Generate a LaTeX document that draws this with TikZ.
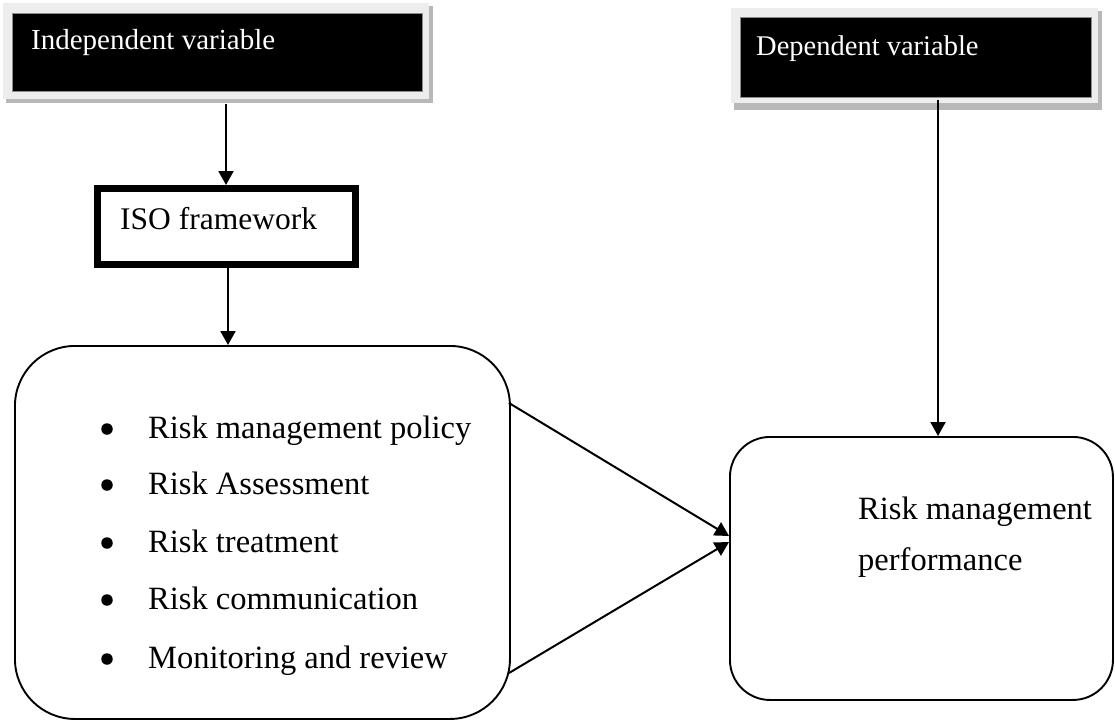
\documentclass[tikz,border=0pt]{standalone}
\usepackage{fontspec}
\setmainfont{Liberation Serif}
\usetikzlibrary{arrows.meta,positioning}
\begin{document}
\begin{tikzpicture}[x=1pt,y=-1pt,
  lightframe/.style={draw=none,fill=black!7,minimum width=#1,anchor=north west,inner sep=0,outer sep=0},
  darkshadow/.style={draw=none,fill=black!28,anchor=north west,inner sep=0,outer sep=0},
  blackbox/.style={draw=black!45,line width=0.6pt,fill=black,anchor=north west,inner sep=0,outer sep=0},
  whitelabel/.style={text=white,anchor=base west,inner sep=0,font=\fontsize{29}{35}\selectfont},
  isobox/.style={draw,line width=7pt,minimum width=258pt,minimum height=76pt,inner sep=0},
  roundbox/.style={draw,line width=1.9pt,inner sep=0,anchor=north west},
  itemtext/.style={anchor=base west,inner sep=0,font=\fontsize{32.5}{39}\selectfont},
  dot/.style={circle,fill,inner sep=0,minimum size=11.5pt},
  arr/.style={line width=2pt,-{Triangle[length=14pt,width=15pt]}}
]
\useasboundingbox (0,0) rectangle (1115,720);

% Independent variable box
\node[darkshadow,minimum width=427pt,minimum height=97pt] (indshadow) at (6,6) {};
\node[lightframe=426pt,minimum height=96pt] (indframe) at (3,3) {};
\node[blackbox,minimum width=410pt,minimum height=78pt] (ind) at (12,13) {};
\node[whitelabel] (indtext) at (31,49) {Independent variable};

% Dependent variable box
\node[darkshadow,minimum width=368pt,minimum height=99pt] (depshadow) at (734,11) {};
\node[lightframe=367pt,minimum height=95pt] (depframe) at (731,8) {};
\node[blackbox,minimum width=351pt,minimum height=80pt] (dep) at (740,17) {};
\node[whitelabel,font=\fontsize{28.5}{34}\selectfont] (deptext) at (756,55) {Dependent variable};

% ISO framework
\node[isobox] (iso) at (226.5,226.5) {};
\node[anchor=base west,inner sep=0,font=\fontsize{31.5}{38}\selectfont] (isotext) at (120,229) {ISO framework};

% Left rounded box
\node[roundbox,rounded corners=60pt,minimum width=495pt,minimum height=373pt] (lbox) at (14,345) {};
\node[dot] (d1) at (107,429) {};
\node[dot] (d2) at (107,485) {};
\node[dot] (d3) at (107,543) {};
\node[dot] (d4) at (107,600) {};
\node[dot] (d5) at (107,659) {};
\node[itemtext] (t1) at (148,438) {Risk management policy};
\node[itemtext] (t2) at (148,494) {Risk Assessment};
\node[itemtext] (t3) at (148,552) {Risk treatment};
\node[itemtext] (t4) at (148,609) {Risk communication};
\node[itemtext] (t5) at (148,668) {Monitoring and review};

% Right rounded box
\node[roundbox,rounded corners=40pt,minimum width=383pt,minimum height=263pt] (rbox) at (729,436) {};
\node[anchor=north west,inner sep=0,align=left,font=\fontsize{32.5}{51}\selectfont] (rtext) at (858,497) {Risk management\\performance};

% Connectors
\coordinate (ia) at (226,104);
\draw[arr] (ia) -- (ia |- iso.north);
\coordinate (ib) at (228,268);
\draw[arr] (ib) -- (ib |- lbox.north);
\coordinate (da) at (938,100);
\draw[arr] (da) -- (da |- rbox.north);
\coordinate (la) at (509,403);
\coordinate (lb) at (509,673);
\coordinate (ra) at (729,536);
\coordinate (rb) at (729,542);
\draw[arr] (la) -- (ra);
\draw[arr] (lb) -- (rb);
\end{tikzpicture}
\end{document}
